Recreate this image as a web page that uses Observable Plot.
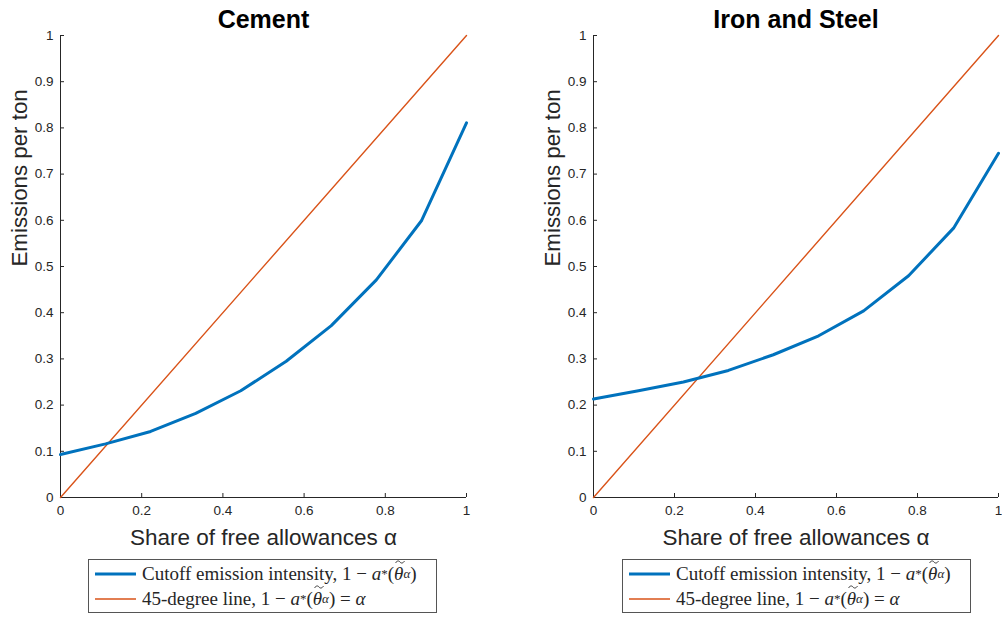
<!DOCTYPE html>
<html>
<head>
<meta charset="utf-8">
<script src="https://cdn.jsdelivr.net/npm/d3@7"></script>
<script src="https://cdn.jsdelivr.net/npm/@observablehq/plot@0.6"></script>
<style>
  html, body { margin: 0; padding: 0; background: #fff; }
  #wrap { position: relative; width: 1002px; height: 619px; overflow: hidden; }
  .panel { position: absolute; top: 0; }
  .panel g[aria-label="x-axis tick label"], .panel g[aria-label="y-axis tick label"] { font-size: 13.5px; }
  .legend { position: absolute; top: 559px; width: 347px; height: 52px; border: 1px solid #555; background: #fff;
            font-family: "Liberation Serif", "Times New Roman", serif; font-size: 19px; color: #262626; }
  .row { position: absolute; left: 6px; height: 22px; display: flex; align-items: center; white-space: nowrap; }
  .sw { display: block; margin-right: 6px; }
  .m { font-style: italic; }
  sub { font-size: 13px; vertical-align: -3px; line-height: 0; }
  sup { font-size: 13px; vertical-align: 6px; line-height: 0; }
  .th { position: relative; display: inline-block; }
  .th svg { position: absolute; left: 1px; top: -3px; }
</style>
</head>
<body>
<div id="wrap"></div>
<script>
const alpha = [0, 0.111, 0.222, 0.333, 0.444, 0.556, 0.667, 0.778, 0.889, 1];
const cement = [0.093, 0.116, 0.143, 0.182, 0.231, 0.295, 0.372, 0.471, 0.599, 0.811];
const ironSteel = [0.213, 0.231, 0.250, 0.275, 0.309, 0.350, 0.404, 0.480, 0.583, 0.745];
const diagX = [0, 1];
const diagY = [0, 1];
const xTicks = [0, 0.2, 0.4, 0.6, 0.8, 1];
const yTicks = [0, 0.1, 0.2, 0.3, 0.4, 0.5, 0.6, 0.7, 0.8, 0.9, 1];
const titles = ["Cement", "Iron and Steel"];
const xLabel = "Share of free allowances α";
const yLabel = "Emissions per ton";

const blue = "#0072BD", orange = "#D95319", axisColor = "#262626";
const sans = "Helvetica, Arial, 'Liberation Sans', sans-serif";

function panel(title, values, left, width, marginRight) {
  const curve = alpha.map((a, i) => ({x: a, y: values[i]}));
  const diag = diagX.map((a, i) => ({x: a, y: diagY[i]}));
  const svg = Plot.plot({
    width, height: 560,
    marginTop: 35, marginBottom: 63, marginLeft: 60, marginRight,
    style: {fontFamily: sans, fontSize: "13px", color: axisColor, background: "transparent", overflow: "visible"},
    x: {domain: [0, 1]},
    y: {domain: [0, 1]},
    marks: [
      Plot.axisX({ticks: xTicks, tickFormat: d => String(d), tickSize: -4, tickPadding: 12, fontSize: 13.5, label: null, stroke: axisColor, fill: axisColor}),
      Plot.axisY({ticks: yTicks, tickFormat: d => String(d), tickSize: -4, tickPadding: 11, fontSize: 13.5, label: null, stroke: axisColor, fill: axisColor}),
      Plot.ruleY([0], {stroke: axisColor, strokeWidth: 1}),
      Plot.ruleX([0], {stroke: axisColor, strokeWidth: 1}),
      Plot.line(diag, {x: "x", y: "y", stroke: orange, strokeWidth: 1.4}),
      Plot.line(curve, {x: "x", y: "y", stroke: blue, strokeWidth: 3}),
      Plot.text([title], {frameAnchor: "top", dy: -8, lineAnchor: "bottom", fontSize: 25, fontWeight: "bold", fill: "#000"}),
      Plot.text([xLabel], {frameAnchor: "bottom", dy: 47, lineAnchor: "bottom", fontSize: 22.5, fill: axisColor}),
      Plot.text([yLabel], {frameAnchor: "left", dx: -41, rotate: -90, fontSize: 22.3, fill: axisColor})
    ]
  });
  svg.classList.add("panel");
  svg.style.left = left + "px";
  return svg;
}

function swatch(color, w) {
  return `<svg class="sw" width="41" height="4"><line x1="0" x2="41" y1="2" y2="2" stroke="${color}" stroke-width="${w}"/></svg>`;
}

const tilde = `<svg width="10" height="4"><path d="M0.5,3 C2,0.5 4,0.5 5,2 C6,3.5 8,3.5 9.5,1" fill="none" stroke="#262626" stroke-width="0.9"/></svg>`;

function legend(left) {
  const div = document.createElement("div");
  div.className = "legend";
  div.style.left = left + "px";
  const expr = `1&nbsp;−&nbsp;<span class="m">a</span><sup>*</sup>(<span class="m th">θ${tilde}</span><sub class="m">α</sub>)`;
  div.innerHTML =
    `<div class="row" style="top:3px">${swatch(blue, 3)}Cutoff emission intensity, ${expr}</div>` +
    `<div class="row" style="top:28px">${swatch(orange, 1.5)}45-degree line, ${expr}&nbsp;=&nbsp;<span class="m">α</span></div>`;
  return div;
}

const wrap = document.getElementById("wrap");
wrap.appendChild(panel(titles[0], cement, 0, 500, 34));
wrap.appendChild(panel(titles[1], ironSteel, 533, 469, 4));
wrap.appendChild(legend(88));
wrap.appendChild(legend(622));
</script>
</body>
</html>
